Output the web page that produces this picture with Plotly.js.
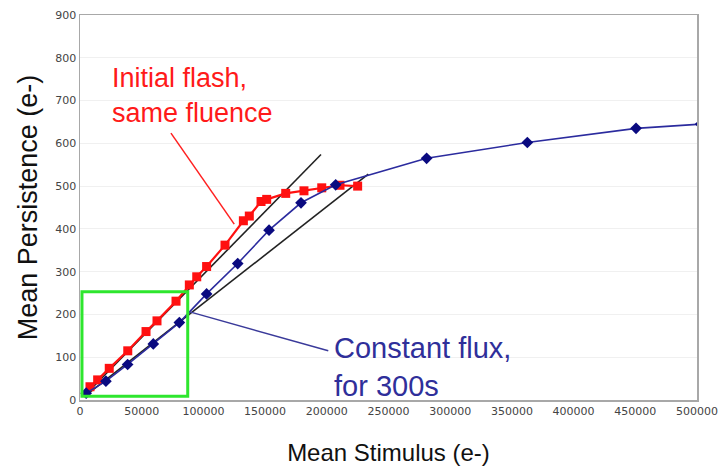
<!DOCTYPE html>
<html>
<head>
<meta charset="utf-8">
<script src="https://cdn.plot.ly/plotly-3.0.1.min.js"></script>
<style>html,body{margin:0;padding:0;background:#fff;}#chart{width:719px;height:468px;}</style>
</head>
<body>
<div id="chart"></div>
<script>
// Initial flash, same fluence (red)
const flashX = [8100, 14300, 23700, 38700, 53500, 62400, 77800, 88600, 94600, 102600, 117500, 132400, 137200, 146700, 151300, 166700, 181500, 195900, 210700, 225000];
const flashY = [31, 47, 74, 115, 160, 185, 231, 269, 288, 312, 362, 419, 430, 464, 469, 483, 489, 496, 502, 500];

// Constant flux, for 300s (blue)
const fluxX = [5000, 21000, 38600, 59400, 80500, 102600, 127800, 153200, 179100, 207200, 280900, 362500, 450600, 503000];
const fluxY = [16, 44, 83, 131, 181, 248, 319, 397, 461, 503, 565, 602, 635, 645];

// Linear reference lines (black)
const fit1X = [4000, 195300];
const fit1Y = [11, 574];
const fit2X = [4000, 233600];
const fit2Y = [9, 528];

// Callout leader lines and highlight box
const redLeaderX = [73700, 125000];
const redLeaderY = [624, 411];
const blueLeaderX = [89000, 201200];
const blueLeaderY = [206, 115];
const boxX = [1600, 87300];
const boxY = [9, 253];

const xTicks = [0, 50000, 100000, 150000, 200000, 250000, 300000, 350000, 400000, 450000, 500000];
const yTicks = [0, 100, 200, 300, 400, 500, 600, 700, 800, 900];

const traces = [
  {x: fit1X, y: fit1Y, mode: 'lines', line: {color: '#222222', width: 1.6}, hoverinfo: 'skip'},
  {x: fit2X, y: fit2Y, mode: 'lines', line: {color: '#222222', width: 1.6}, hoverinfo: 'skip'},
  {x: flashX, y: flashY, mode: 'lines+markers', name: 'Initial flash',
   line: {color: '#ff1010', width: 2.2}, marker: {symbol: 'square', size: 9, color: '#ff1010'}},
  {x: fluxX, y: fluxY, mode: 'lines+markers', name: 'Constant flux',
   line: {color: '#2b2b9e', width: 1.6}, marker: {symbol: 'diamond', size: 9, color: '#0a0a80'}}
];

const layout = {
  width: 719, height: 468,
  margin: {l: 80, r: 22, t: 15, b: 68},
  paper_bgcolor: '#ffffff', plot_bgcolor: '#ffffff',
  showlegend: false,
  font: {family: '"Liberation Sans", Arial, sans-serif'},
  xaxis: {
    range: [0, 500000], tickvals: xTicks, ticktext: xTicks.map(String),
    showgrid: false, zeroline: false,
    showline: true, linecolor: '#a8a8a8', linewidth: 1.5, mirror: true,
    ticks: '', ticklen: 0,
    tickfont: {family: '"DejaVu Sans", Verdana, sans-serif', size: 11, color: '#444444'},
    title: {text: 'Mean Stimulus (e-)', font: {family: '"Liberation Sans", Arial, sans-serif', size: 24, color: '#111111'}, standoff: 27}
  },
  yaxis: {
    range: [0, 900], tickvals: yTicks, ticktext: yTicks.map(String),
    showgrid: true, gridcolor: '#f0f0f0', gridwidth: 1, zeroline: false,
    showline: true, linecolor: '#a8a8a8', linewidth: 1.5, mirror: true,
    ticks: '', ticklen: 0,
    tickfont: {family: '"DejaVu Sans", Verdana, sans-serif', size: 11, color: '#444444'},
    title: {text: 'Mean Persistence (e-)', font: {family: '"Liberation Sans", Arial, sans-serif', size: 27, color: '#111111'}, standoff: 10}
  },
  shapes: [
    {type: 'rect', xref: 'x', yref: 'y', x0: boxX[0], x1: boxX[1], y0: boxY[0], y1: boxY[1],
     line: {color: '#2ee62e', width: 3}},
    {type: 'line', xref: 'x', yref: 'y', x0: redLeaderX[0], y0: redLeaderY[0], x1: redLeaderX[1], y1: redLeaderY[1],
     line: {color: '#ff2020', width: 1.5}},
    {type: 'line', xref: 'x', yref: 'y', x0: blueLeaderX[0], y0: blueLeaderY[0], x1: blueLeaderX[1], y1: blueLeaderY[1],
     line: {color: '#3a3a9a', width: 1.5}}
  ],
  annotations: [
    {xref: 'x', yref: 'y', x: 24300, y: 711, xanchor: 'left', yanchor: 'middle', align: 'left', showarrow: false,
     text: 'Initial flash,<br>same fluence',
     font: {family: '"Liberation Sans", Arial, sans-serif', size: 27, color: '#ff1a1a'}},
    {xref: 'x', yref: 'y', x: 204200, y: 77, xanchor: 'left', yanchor: 'middle', align: 'left', showarrow: false,
     text: 'Constant flux,<br>for 300s',
     font: {family: '"Liberation Sans", Arial, sans-serif', size: 29, color: '#2f2f9a'}}
  ]
};

Plotly.newPlot('chart', traces, layout, {displayModeBar: false, staticPlot: true});
</script>
</body>
</html>
